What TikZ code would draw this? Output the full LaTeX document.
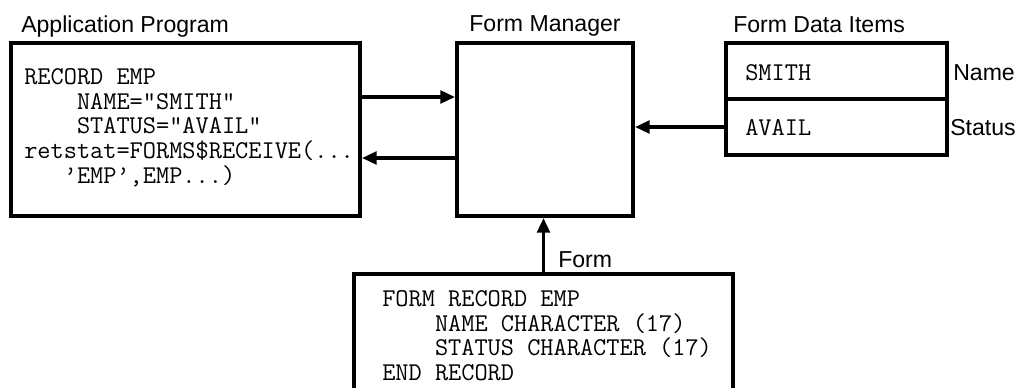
\documentclass[tikz,border=0pt]{standalone}
\usepackage{fontspec}
\setmainfont{Liberation Sans}
\usetikzlibrary{arrows.meta}
\begin{document}
\begin{tikzpicture}[x=0.75pt,y=-0.75pt,
  box/.style={draw, line width=3pt, inner sep=0pt},
  conn/.style={line width=2.6pt, -{Triangle[length=11pt,width=9.5pt]}},
  captext/.style={font=\fontsize{17.3}{20}\selectfont, inner sep=0pt},
  code/.style={font=\ttfamily\fontsize{19.2}{18.6}\selectfont, align=left, inner sep=0pt}]
\useasboundingbox (0,0) rectangle (1019,387);
\clip (0,0) rectangle (1019,387);
% boxes
\node[box, minimum width=261.75pt, minimum height=129.75pt] (app) at (185.5,129.5) {};
\node[box, minimum width=132pt, minimum height=129.75pt] (fm) at (545,129.5) {};
\node[box, minimum width=165.75pt, minimum height=42pt] (name) at (836.5,71) {};
\node[box, minimum width=165.75pt, minimum height=42pt] (status) at (836.5,127) {};
\node[box, minimum width=284.25pt, minimum height=99pt] (form) at (543.5,340) {};
% captions
\node[captext, anchor=base west] (lapp) at (21,32) {Application Program};
\node[captext, anchor=base] (lfm) at (545,31) {Form Manager};
\node[captext, anchor=base west] (lfdi) at (733,32) {Form Data Items};
\node[captext, anchor=base west] (lname) at (953,80) {Name};
\node[captext, anchor=base west] (lstatus) at (950,135) {Status};
\node[captext, anchor=base west] (lform) at (558,267) {Form};
% code texts
\node[code, anchor=north west] (appcode) at (24,68) {RECORD EMP\\\phantom{0000}NAME="SMITH"\\\phantom{0000}STATUS="AVAIL"\\retstat=FORMS\$RECEIVE(...\\\phantom{000}’EMP’,EMP...)};
\node[code, anchor=base west] (smith) at (745,80) {SMITH};
\node[code, anchor=base west] (avail) at (745,135) {AVAIL};
\node[code, anchor=north west] (formcode) at (382,290) {FORM RECORD EMP\\\phantom{0000}NAME CHARACTER (17)\\\phantom{0000}STATUS CHARACTER (17)\\END RECORD};
% connectors
\draw[conn] ([yshift=-42pt]app.north east) -- ([yshift=-42pt]fm.north west);
\draw[conn] ([yshift=-87.75pt]fm.north west) -- ([yshift=-87.75pt]app.north east);
\draw[conn] (status.west) -- (fm.east |- status.west);
\draw[conn] (form.north) -- (form.north |- fm.south);
\end{tikzpicture}
\end{document}
